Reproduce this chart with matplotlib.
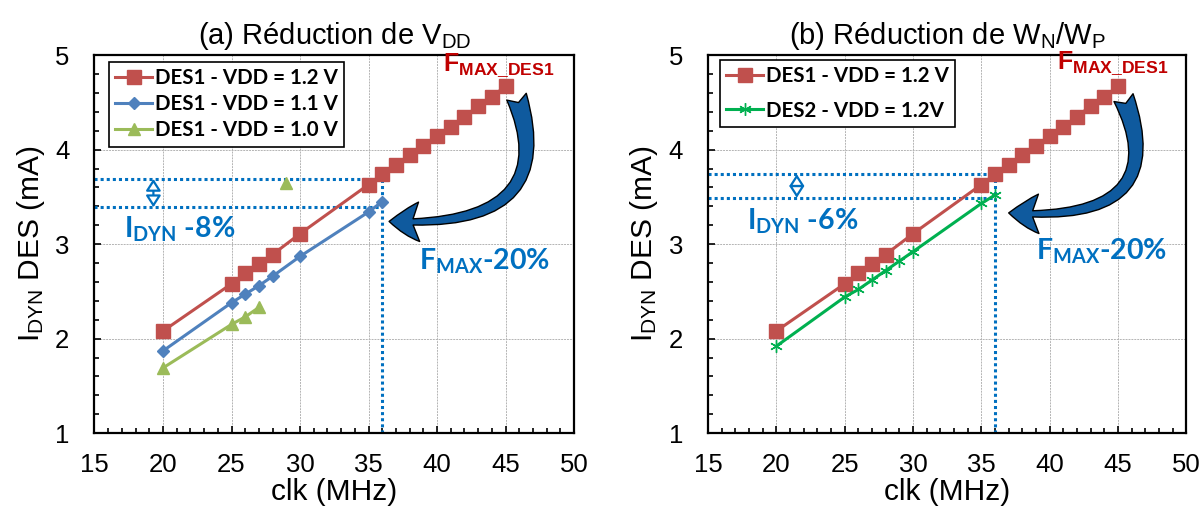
import numpy as np
import matplotlib
matplotlib.use("Agg")
import matplotlib.pyplot as plt
from matplotlib.patches import FancyArrowPatch
from matplotlib.path import Path
from matplotlib.ticker import MultipleLocator

# --- data ---
clk_des1 = [20, 25, 26, 27, 28, 30, 35, 36, 37, 38, 39, 40, 41, 42, 43, 44, 45]
idyn_des1_12 = [2.08, 2.58, 2.69, 2.79, 2.89, 3.11, 3.63, 3.74, 3.84, 3.94,
                4.04, 4.14, 4.24, 4.35, 4.46, 4.56, 4.67]
clk_des1_11 = [20, 25, 26, 27, 28, 30, 35, 36]
idyn_des1_11 = [1.87, 2.38, 2.47, 2.56, 2.66, 2.87, 3.34, 3.45]
clk_des1_10 = [20, 25, 26, 27, 28, 29]
idyn_des1_10 = [1.69, 2.15, 2.23, 2.33, np.nan, 3.65]
clk_des2 = [20, 25, 26, 27, 28, 29, 30, 35, 36]
idyn_des2 = [1.92, 2.44, 2.52, 2.62, 2.72, 2.82, 2.92, 3.43, 3.52]

fmax_reduced = 36
ref_levels_a = [3.69, 3.39]   # dotted I_DYN levels, panel (a)
ref_levels_b = [3.74, 3.49]   # dotted I_DYN levels, panel (b)

labels_a = ["DES1 - VDD = 1.2 V", "DES1 - VDD = 1.1 V", "DES1 - VDD = 1.0 V"]
labels_b = ["DES1 - VDD = 1.2 V", "DES2 - VDD = 1.2V"]

RED = "#C0504D"
BLUE = "#4F81BD"
GREEN = "#9BBB59"
GREEN2 = "#00B050"
ANNOT = "#0070C0"
DARKRED = "#C00000"
ARROWC = "#0F5A9E"

plt.rcParams["font.family"] = ["Liberation Sans", "DejaVu Sans"]
plt.rcParams["mathtext.fontset"] = "custom"
plt.rcParams["mathtext.rm"] = "Liberation Sans"
plt.rcParams["mathtext.it"] = "Liberation Sans:italic"
plt.rcParams["mathtext.bf"] = "Lato:bold"
plt.rcParams["mathtext.sf"] = "Liberation Sans:bold"

fig = plt.figure(figsize=(12.02, 5.15), dpi=100)
ax1 = fig.add_axes([0.0786, 0.159, 0.399, 0.734])
ax2 = fig.add_axes([0.589, 0.159, 0.398, 0.734])


def style_axes(ax):
    ax.set_xlim(15, 50)
    ax.set_ylim(1, 5)
    ax.xaxis.set_major_locator(MultipleLocator(5))
    ax.xaxis.set_minor_locator(MultipleLocator(1))
    ax.yaxis.set_major_locator(MultipleLocator(1))
    ax.yaxis.set_minor_locator(MultipleLocator(0.2))
    ax.grid(True, which="major", color="#B4B4B4", lw=0.7, ls=(0, (2, 1)))
    ax.set_axisbelow(True)
    for sp in ax.spines.values():
        sp.set_linewidth(1.6)
        sp.set_color("black")
    ax.tick_params(which="both", direction="in", top=False, right=False,
                   width=1.2, labelsize=18.5)
    ax.tick_params(axis="x", which="major", pad=14)
    ax.tick_params(axis="y", which="major", pad=18)
    ax.tick_params(which="major", length=5)
    ax.tick_params(which="minor", length=3.3)
    ax.set_xlabel("clk (MHz)", fontsize=21.5, labelpad=1)
    ax.set_ylabel(r"$\mathrm{I}_{\mathrm{DYN}}$ DES (mA)", fontsize=21.5, labelpad=6)


def dotted_refs(ax, levels, xarrow):
    kw = dict(color=ANNOT, lw=2.2, ls=(0, (1, 1)), zorder=1.5)
    for lv in levels:
        ax.plot([15, fmax_reduced], [lv, lv], **kw)
    ax.plot([fmax_reduced, fmax_reduced], [1, max(levels)], **kw)
    ax.annotate("", xy=(xarrow, levels[0]), xytext=(xarrow, levels[1]),
                arrowprops=dict(arrowstyle="<|-|>,head_length=0.7,head_width=0.45",
                                color=ANNOT, fc="white", lw=1.6,
                                shrinkA=0, shrinkB=0))


def curved_arrow(ax, start, ctrl, end):
    p = Path([start, ctrl, end], [Path.MOVETO, Path.CURVE3, Path.CURVE3])
    arr = FancyArrowPatch(path=p, arrowstyle="fancy,head_length=0.8,head_width=1.05,tail_width=0.55",
                          mutation_scale=27, fc=ARROWC, ec="black", lw=1.0,
                          transform=ax.transData, zorder=5)
    ax.add_patch(arr)


annot_kw = dict(fontfamily="Lato", fontweight="bold", fontsize=20.5, color=ANNOT)
leg_prop = {"family": "Lato", "weight": "bold", "size": 14.8}

# ---- panel (a)
style_axes(ax1)
ax1.plot(clk_des1, idyn_des1_12, color=RED, lw=2.2, marker="s", ms=9.5, label=labels_a[0], zorder=3)
ax1.plot(clk_des1_11, idyn_des1_11, color=BLUE, lw=2.2, marker="D", ms=6, label=labels_a[1], zorder=3)
ax1.plot(clk_des1_10, idyn_des1_10, color=GREEN, lw=2.2, marker="^", ms=8.5, label=labels_a[2], zorder=3)
dotted_refs(ax1, ref_levels_a, 19.3)
curved_arrow(ax1, (45.8, 4.56), (49.2, 3.15), (36.5, 3.24))
ax1.text(17.15, 3.07, r"$\mathbf{I}_{\mathbf{DYN}}$ -8%", **annot_kw)
ax1.text(38.7, 2.73, r"$\mathbf{F}_{\mathbf{MAX}}$-20%", **annot_kw)
ax1.text(40.45, 4.83, r"$\mathsf{F}_{\mathsf{MAX\_DES1}}$", fontsize=18, color=DARKRED)
ax1.set_title(r"(a) Réduction de $\mathrm{V}_{\mathrm{DD}}$", fontsize=21, pad=8)
leg = ax1.legend(loc="upper left", bbox_to_anchor=(0.03, 0.982), prop=leg_prop,
                 handlelength=1.8, handletextpad=0.15, labelspacing=0.3,
                 borderpad=0.3, borderaxespad=0, fancybox=False, framealpha=1,
                 edgecolor="black")
leg.get_frame().set_linewidth(1.2)

# ---- panel (b)
style_axes(ax2)
ax2.plot(clk_des1, idyn_des1_12, color=RED, lw=2.2, marker="s", ms=9.5, label=labels_b[0], zorder=3)
ax2.plot(clk_des2, idyn_des2, color=GREEN2, lw=2.2, marker=(6, 2, 0), ms=9, mew=1.0,
         label=labels_b[1], zorder=3)
dotted_refs(ax2, ref_levels_b, 21.5)
curved_arrow(ax2, (45.4, 4.55), (49.2, 3.21), (37.0, 3.33))
ax2.text(17.85, 3.15, r"$\mathbf{I}_{\mathbf{DYN}}$ -6%", **annot_kw)
ax2.text(39.0, 2.84, r"$\mathbf{F}_{\mathbf{MAX}}$-20%", **annot_kw)
ax2.text(40.55, 4.85, r"$\mathsf{F}_{\mathsf{MAX\_DES1}}$", fontsize=18, color=DARKRED)
ax2.set_title(r"(b) Réduction de $\mathrm{W}_{\mathrm{N}}\mathrm{/W}_{\mathrm{P}}$", fontsize=21, pad=8)
leg = ax2.legend(loc="upper left", bbox_to_anchor=(0.025, 0.987), prop=leg_prop,
                 handlelength=1.8, handletextpad=0.15, labelspacing=0.7,
                 borderpad=0.3, borderaxespad=0, fancybox=False, framealpha=1,
                 edgecolor="black")
leg.get_frame().set_linewidth(1.2)

fig.savefig("out.png", dpi=100)
